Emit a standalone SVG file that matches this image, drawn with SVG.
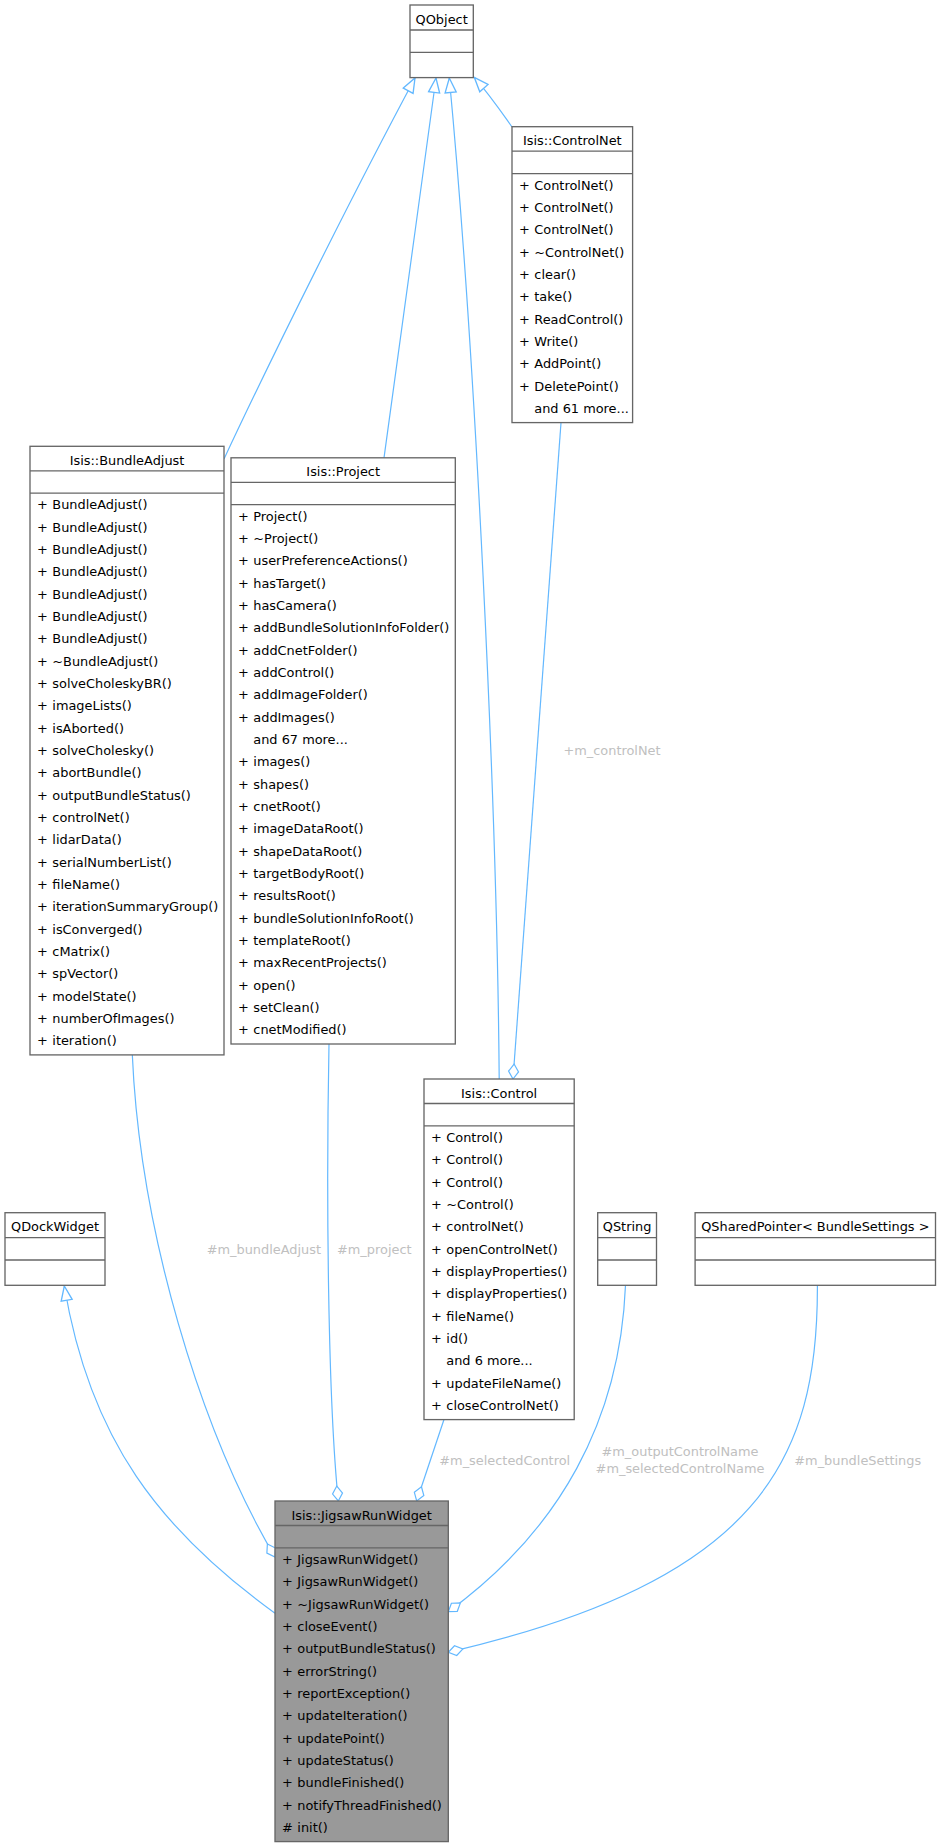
<svg xmlns="http://www.w3.org/2000/svg" width="940" height="1847" viewBox="0 0 940 1847">
<style>
text{font-family:"DejaVu Sans","Liberation Sans",sans-serif;font-size:12.9px;fill:#000}
.t{text-anchor:middle}
.b{fill:#fff;stroke:#666;stroke-width:1.33}
.m{fill:#999;stroke:#666;stroke-width:1.33}
.s{stroke:#666;stroke-width:1.33}
.e{fill:none;stroke:#63b8ff;stroke-width:1.2}
.l{fill:#c0c0c0}
</style>
<defs>
<marker id="tri" markerUnits="userSpaceOnUse" markerWidth="20" markerHeight="20" refX="13" refY="0" orient="auto" overflow="visible" viewBox="-2 -8 18 16"><path d="M0,-5 L13,0 L0,5 Z" fill="#fff" stroke="#63b8ff" stroke-width="1.2"/></marker>
<marker id="dia" markerUnits="userSpaceOnUse" markerWidth="20" markerHeight="20" refX="15" refY="0" orient="auto" overflow="visible" viewBox="-2 -8 20 16"><path d="M0,0 L7.5,-5 L15,0 L7.5,5 Z" fill="#fff" stroke="#63b8ff" stroke-width="1.2"/></marker>
</defs>
<rect width="940" height="1847" fill="#fff"/>
<g id="edges">
<path class="e" d="M224,459 C275,350 355,190 415,78" marker-end="url(#tri)"/>
<path class="e" d="M384,457.8 C395,370 420,200 436,78" marker-end="url(#tri)"/>
<path class="e" d="M499.2,1079 C497,800 475,350 449.3,78" marker-end="url(#tri)"/>
<path class="e" d="M512,127 C500,110 490,95 474.3,77.3" marker-end="url(#tri)"/>
<path class="e" d="M561,422.7 L513,1079" marker-end="url(#dia)"/>
<path class="e" d="M132.3,1054.5 C140,1230 200,1430 275,1557" marker-end="url(#dia)"/>
<path class="e" d="M329,1043.5 C326,1200 328,1400 338.3,1501" marker-end="url(#dia)"/>
<path class="e" d="M444,1419.5 L416.7,1501" marker-end="url(#dia)"/>
<path class="e" d="M625.5,1285.3 C620,1420 560,1530 448.3,1611.7" marker-end="url(#dia)"/>
<path class="e" d="M817.4,1285.3 C818,1460 760,1580 448.3,1652.3" marker-end="url(#dia)"/>
<path class="e" d="M275,1613.3 C160,1530 90,1440 64.3,1286" marker-end="url(#tri)"/>
<text class="l t" x="612" y="755">+m_controlNet</text>
<text class="l" x="206.7" y="1253.5">#m_bundleAdjust</text>
<text class="l" x="337" y="1253.5">#m_project</text>
<text class="l" x="439.3" y="1464.6">#m_selectedControl</text>
<text class="l t" x="680" y="1456.3">#m_outputControlName</text>
<text class="l t" x="680" y="1473">#m_selectedControlName</text>
<text class="l" x="794.3" y="1464.6">#m_bundleSettings</text>
</g>
<g id="QObject" transform="translate(410,5)">
<rect class="b" width="63.3" height="72.6"/>
<line class="s" x1="0" y1="25" x2="63.3" y2="25"/><line class="s" x1="0" y1="47.3" x2="63.3" y2="47.3"/>
<text class="t" x="31.65" y="18.5">QObject</text>
</g>
<g id="ControlNet" transform="translate(512,126.7)">
<rect class="b" width="120.6" height="295.9"/>
<line class="s" x1="0" y1="24.5" x2="120.6" y2="24.5"/><line class="s" x1="0" y1="46.9" x2="120.6" y2="46.9"/>
<text class="t" x="60.3" y="18.5">Isis::ControlNet</text>
<text x="7" y="63">+</text><text x="22.3" y="63">ControlNet()</text>
<text x="7" y="85.33">+</text><text x="22.3" y="85.33">ControlNet()</text>
<text x="7" y="107.66">+</text><text x="22.3" y="107.66">ControlNet()</text>
<text x="7" y="129.99">+</text><text x="22.3" y="129.99">~ControlNet()</text>
<text x="7" y="152.32">+</text><text x="22.3" y="152.32">clear()</text>
<text x="7" y="174.65">+</text><text x="22.3" y="174.65">take()</text>
<text x="7" y="196.98">+</text><text x="22.3" y="196.98">ReadControl()</text>
<text x="7" y="219.31">+</text><text x="22.3" y="219.31">Write()</text>
<text x="7" y="241.64">+</text><text x="22.3" y="241.64">AddPoint()</text>
<text x="7" y="263.97">+</text><text x="22.3" y="263.97">DeletePoint()</text>
<text x="22.3" y="286.3">and 61 more...</text>
</g>
<g id="BundleAdjust" transform="translate(30,446.3)">
<rect class="b" width="194" height="608.6"/>
<line class="s" x1="0" y1="24.5" x2="194" y2="24.5"/><line class="s" x1="0" y1="46.9" x2="194" y2="46.9"/>
<text class="t" x="97" y="18.5">Isis::BundleAdjust</text>
<text x="7" y="63">+</text><text x="22.3" y="63">BundleAdjust()</text>
<text x="7" y="85.33">+</text><text x="22.3" y="85.33">BundleAdjust()</text>
<text x="7" y="107.66">+</text><text x="22.3" y="107.66">BundleAdjust()</text>
<text x="7" y="129.99">+</text><text x="22.3" y="129.99">BundleAdjust()</text>
<text x="7" y="152.32">+</text><text x="22.3" y="152.32">BundleAdjust()</text>
<text x="7" y="174.65">+</text><text x="22.3" y="174.65">BundleAdjust()</text>
<text x="7" y="196.98">+</text><text x="22.3" y="196.98">BundleAdjust()</text>
<text x="7" y="219.31">+</text><text x="22.3" y="219.31">~BundleAdjust()</text>
<text x="7" y="241.64">+</text><text x="22.3" y="241.64">solveCholeskyBR()</text>
<text x="7" y="263.97">+</text><text x="22.3" y="263.97">imageLists()</text>
<text x="7" y="286.3">+</text><text x="22.3" y="286.3">isAborted()</text>
<text x="7" y="308.63">+</text><text x="22.3" y="308.63">solveCholesky()</text>
<text x="7" y="330.96">+</text><text x="22.3" y="330.96">abortBundle()</text>
<text x="7" y="353.29">+</text><text x="22.3" y="353.29">outputBundleStatus()</text>
<text x="7" y="375.62">+</text><text x="22.3" y="375.62">controlNet()</text>
<text x="7" y="397.95">+</text><text x="22.3" y="397.95">lidarData()</text>
<text x="7" y="420.28">+</text><text x="22.3" y="420.28">serialNumberList()</text>
<text x="7" y="442.61">+</text><text x="22.3" y="442.61">fileName()</text>
<text x="7" y="464.94">+</text><text x="22.3" y="464.94">iterationSummaryGroup()</text>
<text x="7" y="487.27">+</text><text x="22.3" y="487.27">isConverged()</text>
<text x="7" y="509.6">+</text><text x="22.3" y="509.6">cMatrix()</text>
<text x="7" y="531.93">+</text><text x="22.3" y="531.93">spVector()</text>
<text x="7" y="554.26">+</text><text x="22.3" y="554.26">modelState()</text>
<text x="7" y="576.59">+</text><text x="22.3" y="576.59">numberOfImages()</text>
<text x="7" y="598.92">+</text><text x="22.3" y="598.92">iteration()</text>
</g>
<g id="Project" transform="translate(231,457.8)">
<rect class="b" width="224.3" height="586.2"/>
<line class="s" x1="0" y1="24.5" x2="224.3" y2="24.5"/><line class="s" x1="0" y1="46.9" x2="224.3" y2="46.9"/>
<text class="t" x="112.15" y="18.5">Isis::Project</text>
<text x="7" y="63">+</text><text x="22.3" y="63">Project()</text>
<text x="7" y="85.33">+</text><text x="22.3" y="85.33">~Project()</text>
<text x="7" y="107.66">+</text><text x="22.3" y="107.66">userPreferenceActions()</text>
<text x="7" y="129.99">+</text><text x="22.3" y="129.99">hasTarget()</text>
<text x="7" y="152.32">+</text><text x="22.3" y="152.32">hasCamera()</text>
<text x="7" y="174.65">+</text><text x="22.3" y="174.65">addBundleSolutionInfoFolder()</text>
<text x="7" y="196.98">+</text><text x="22.3" y="196.98">addCnetFolder()</text>
<text x="7" y="219.31">+</text><text x="22.3" y="219.31">addControl()</text>
<text x="7" y="241.64">+</text><text x="22.3" y="241.64">addImageFolder()</text>
<text x="7" y="263.97">+</text><text x="22.3" y="263.97">addImages()</text>
<text x="22.3" y="286.3">and 67 more...</text>
<text x="7" y="308.63">+</text><text x="22.3" y="308.63">images()</text>
<text x="7" y="330.96">+</text><text x="22.3" y="330.96">shapes()</text>
<text x="7" y="353.29">+</text><text x="22.3" y="353.29">cnetRoot()</text>
<text x="7" y="375.62">+</text><text x="22.3" y="375.62">imageDataRoot()</text>
<text x="7" y="397.95">+</text><text x="22.3" y="397.95">shapeDataRoot()</text>
<text x="7" y="420.28">+</text><text x="22.3" y="420.28">targetBodyRoot()</text>
<text x="7" y="442.61">+</text><text x="22.3" y="442.61">resultsRoot()</text>
<text x="7" y="464.94">+</text><text x="22.3" y="464.94">bundleSolutionInfoRoot()</text>
<text x="7" y="487.27">+</text><text x="22.3" y="487.27">templateRoot()</text>
<text x="7" y="509.6">+</text><text x="22.3" y="509.6">maxRecentProjects()</text>
<text x="7" y="531.93">+</text><text x="22.3" y="531.93">open()</text>
<text x="7" y="554.26">+</text><text x="22.3" y="554.26">setClean()</text>
<text x="7" y="576.59">+</text><text x="22.3" y="576.59">cnetModified()</text>
</g>
<g id="Control" transform="translate(424,1079)">
<rect class="b" width="150.2" height="340.6"/>
<line class="s" x1="0" y1="24.5" x2="150.2" y2="24.5"/><line class="s" x1="0" y1="46.9" x2="150.2" y2="46.9"/>
<text class="t" x="75.1" y="18.5">Isis::Control</text>
<text x="7" y="63">+</text><text x="22.3" y="63">Control()</text>
<text x="7" y="85.33">+</text><text x="22.3" y="85.33">Control()</text>
<text x="7" y="107.66">+</text><text x="22.3" y="107.66">Control()</text>
<text x="7" y="129.99">+</text><text x="22.3" y="129.99">~Control()</text>
<text x="7" y="152.32">+</text><text x="22.3" y="152.32">controlNet()</text>
<text x="7" y="174.65">+</text><text x="22.3" y="174.65">openControlNet()</text>
<text x="7" y="196.98">+</text><text x="22.3" y="196.98">displayProperties()</text>
<text x="7" y="219.31">+</text><text x="22.3" y="219.31">displayProperties()</text>
<text x="7" y="241.64">+</text><text x="22.3" y="241.64">fileName()</text>
<text x="7" y="263.97">+</text><text x="22.3" y="263.97">id()</text>
<text x="22.3" y="286.3">and 6 more...</text>
<text x="7" y="308.63">+</text><text x="22.3" y="308.63">updateFileName()</text>
<text x="7" y="330.96">+</text><text x="22.3" y="330.96">closeControlNet()</text>
</g>
<g id="QDockWidget" transform="translate(5,1212.7)">
<rect class="b" width="100" height="72.6"/>
<line class="s" x1="0" y1="25" x2="100" y2="25"/><line class="s" x1="0" y1="47.3" x2="100" y2="47.3"/>
<text class="t" x="50" y="18.5">QDockWidget</text>
</g>
<g id="QString" transform="translate(597.7,1212.7)">
<rect class="b" width="58.8" height="72.6"/>
<line class="s" x1="0" y1="25" x2="58.8" y2="25"/><line class="s" x1="0" y1="47.3" x2="58.8" y2="47.3"/>
<text class="t" x="29.4" y="18.5">QString</text>
</g>
<g id="QSharedPointer" transform="translate(695.1,1212.7)">
<rect class="b" width="240.4" height="72.6"/>
<line class="s" x1="0" y1="25" x2="240.4" y2="25"/><line class="s" x1="0" y1="47.3" x2="240.4" y2="47.3"/>
<text class="t" x="120.2" y="18.5">QSharedPointer&lt; BundleSettings &gt;</text>
</g>
<g id="JigsawRunWidget" transform="translate(275,1501)">
<rect class="m" width="173.3" height="340.6"/>
<line class="s" x1="0" y1="24.5" x2="173.3" y2="24.5"/><line class="s" x1="0" y1="46.9" x2="173.3" y2="46.9"/>
<text class="t" x="86.65" y="18.5">Isis::JigsawRunWidget</text>
<text x="7" y="63">+</text><text x="22.3" y="63">JigsawRunWidget()</text>
<text x="7" y="85.33">+</text><text x="22.3" y="85.33">JigsawRunWidget()</text>
<text x="7" y="107.66">+</text><text x="22.3" y="107.66">~JigsawRunWidget()</text>
<text x="7" y="129.99">+</text><text x="22.3" y="129.99">closeEvent()</text>
<text x="7" y="152.32">+</text><text x="22.3" y="152.32">outputBundleStatus()</text>
<text x="7" y="174.65">+</text><text x="22.3" y="174.65">errorString()</text>
<text x="7" y="196.98">+</text><text x="22.3" y="196.98">reportException()</text>
<text x="7" y="219.31">+</text><text x="22.3" y="219.31">updateIteration()</text>
<text x="7" y="241.64">+</text><text x="22.3" y="241.64">updatePoint()</text>
<text x="7" y="263.97">+</text><text x="22.3" y="263.97">updateStatus()</text>
<text x="7" y="286.3">+</text><text x="22.3" y="286.3">bundleFinished()</text>
<text x="7" y="308.63">+</text><text x="22.3" y="308.63">notifyThreadFinished()</text>
<text x="7" y="330.96">#</text><text x="22.3" y="330.96">init()</text>
</g>
</svg>
